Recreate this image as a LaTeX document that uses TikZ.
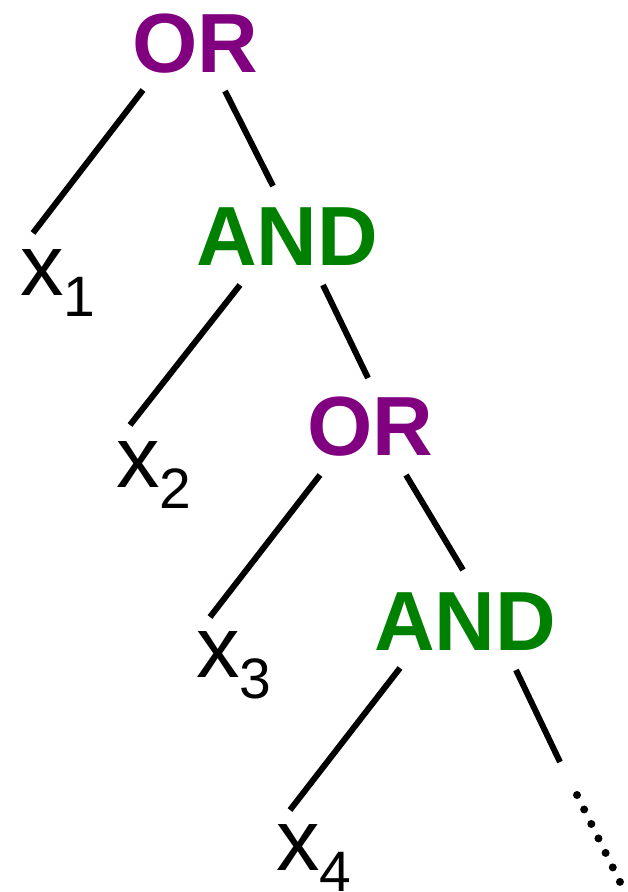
\documentclass[tikz,border=0pt]{standalone}
\usepackage{fontspec}
\setmainfont{Liberation Sans}
\definecolor{orpurple}{HTML}{800080}
\definecolor{andgreen}{HTML}{008000}
\begin{document}
\begin{tikzpicture}[x=1pt,y=-1pt,
  gate/.style={inner sep=0pt,anchor=base,font=\fontsize{84}{84}\selectfont\bfseries},
  orgate/.style={gate,text=orpurple},
  andgate/.style={gate,text=andgreen},
  var/.style={inner sep=0pt,anchor=base west,font=\fontsize{87}{87}\selectfont},
  edge/.style={line width=6pt,black}]
\useasboundingbox (0,0) rectangle (627,892);
\newcommand{\varsub}[1]{x\raisebox{-21pt}{\fontsize{57}{57}\selectfont #1}}
% gates
\node[orgate]  (or1)  at (195,72)  {OR};
\node[andgate] (and1) at (287,265) {AND};
\node[orgate]  (or2)  at (370,455) {OR};
\node[andgate] (and2) at (465,650) {AND};
% variables
\node[var] (x1) at (20,295) {\varsub{1}};
\node[var] (x2) at (116,487) {\varsub{2}};
\node[var] (x3) at (196,677) {\varsub{3}};
\node[var] (x4) at (276,870) {\varsub{4}};
% connector end points
\coordinate (or1-l)  at (143,90);  \coordinate (x1-t)   at (33,233);
\coordinate (or1-r)  at (225,91);  \coordinate (and1-t) at (273,186);
\coordinate (and1-l) at (240,285); \coordinate (x2-t)   at (130,425);
\coordinate (and1-r) at (323,285); \coordinate (or2-t)  at (368,378);
\coordinate (or2-l)  at (320,475); \coordinate (x3-t)   at (210,617);
\coordinate (or2-r)  at (406,475); \coordinate (and2-t) at (463,570);
\coordinate (and2-l) at (400,668); \coordinate (x4-t)   at (290,810);
\coordinate (and2-r) at (516,670); \coordinate (more-t) at (560,762);
\coordinate (dots-a) at (577,795); \coordinate (dots-b) at (620,882);
% connectors
\draw[edge] (or1-l) -- (x1-t);
\draw[edge] (or1-r) -- (and1-t);
\draw[edge] (and1-l) -- (x2-t);
\draw[edge] (and1-r) -- (or2-t);
\draw[edge] (or2-l) -- (x3-t);
\draw[edge] (or2-r) -- (and2-t);
\draw[edge] (and2-l) -- (x4-t);
\draw[edge] (and2-r) -- (more-t);
\draw[line width=8pt,line cap=round,dash pattern=on 0pt off 16.15pt] (dots-a) -- (dots-b);
\end{tikzpicture}
\end{document}
